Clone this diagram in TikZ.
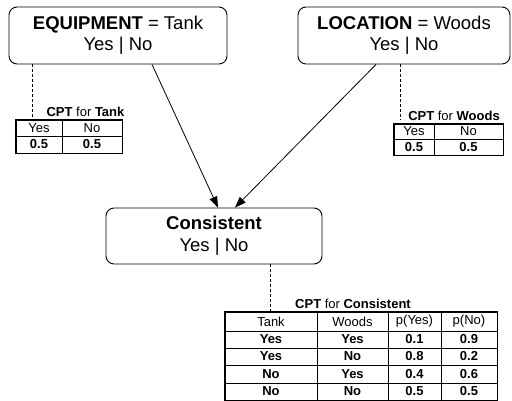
\documentclass[tikz,border=0pt]{standalone}
\usepackage{fontspec}
\setmainfont{Liberation Sans}
\usetikzlibrary{arrows.meta}
\tikzset{
  varbox/.style={draw, line width=0.9pt, rounded corners=8pt, minimum width=218pt, minimum height=57pt, align=center, font=\fontsize{18.5}{21.5}\selectfont, inner sep=0pt},
  cell/.style={draw, line width=0.5pt, inner sep=0pt, anchor=center, font=\fontsize{13}{14}\selectfont},
  bcell/.style={cell, font=\fontsize{13}{14}\selectfont\bfseries},
  outer/.style={line width=1.1pt},
  caption/.style={inner sep=0pt, font=\fontsize{13}{14}\selectfont},
  arr/.style={line width=0.8pt, -{Triangle[length=11pt,width=8pt]}},
  link/.style={line width=0.6pt, dashed, dash pattern=on 3pt off 2pt}
}
\begin{document}
\begin{tikzpicture}[x=1pt,y=-1pt]
\useasboundingbox (0,0) rectangle (512,401);
% variable nodes
\node[varbox] (equip) at (118,35.5) {\textbf{EQUIPMENT} = Tank\\Yes | No};
\node[varbox, minimum width=212pt] (loc) at (404,35.5) {\textbf{LOCATION} = Woods\\Yes | No};
\node[varbox, minimum width=216pt, minimum height=56pt] (cons) at (214,236) {\textbf{Consistent}\\Yes | No};
% arrows
\draw[arr] ([xshift=34pt]equip.south) -- ([xshift=4pt]cons.north);
\draw[arr] ([xshift=-28pt]loc.south) -- ([xshift=21pt]cons.north);

% CPT for Tank
\node[caption] (tcap) at (85.5,112) {\textbf{CPT} for \textbf{Tank}};
\node[cell, minimum width=46pt, minimum height=16pt] (t11) at (39,128) {Yes};
\node[cell, minimum width=60pt, minimum height=16pt] (t12) at (92,128) {No};
\node[bcell, minimum width=46pt, minimum height=17pt] (t21) at (39,144.5) {0.5};
\node[bcell, minimum width=60pt, minimum height=17pt] (t22) at (92,144.5) {0.5};
\draw[outer] (t11.north west) rectangle (t22.south east);
\draw[link] ([xshift=-86pt]equip.south) -- ([xshift=-7pt]t11.north);

% CPT for Woods
\node[caption] (wcap) at (454,115.5) {\textbf{CPT} for \textbf{Woods}};
\node[cell, minimum width=40pt, minimum height=15pt] (w11) at (414,131.5) {Yes};
\node[cell, minimum width=69pt, minimum height=15pt] (w12) at (468.5,131.5) {No};
\node[bcell, minimum width=40pt, minimum height=16pt] (w21) at (414,147) {0.5};
\node[bcell, minimum width=69pt, minimum height=16pt] (w22) at (468.5,147) {0.5};
\draw[outer] (w11.north west) rectangle (w22.south east);
\coordinate (wend) at (400,120);
\draw[link] ([xshift=-4pt]loc.south) -- (wend);

% CPT for Consistent
\node[caption] (ccap) at (353,304) {\textbf{CPT} for \textbf{Consistent}};
\node[cell, minimum width=92pt, minimum height=19pt] (c11) at (271,321.5) {Tank};
\node[cell, minimum width=71pt, minimum height=19pt] (c12) at (352.5,321.5) {Woods};
\node[cell, minimum width=53pt, minimum height=19pt] (c13) at (414.5,321.5) {p(Yes)};
\node[cell, minimum width=56pt, minimum height=19pt] (c14) at (469,321.5) {p(No)};
% row 2
\node[bcell, minimum width=92pt, minimum height=17pt] (c21) at (271,339.5) {Yes};
\node[bcell, minimum width=71pt, minimum height=17pt] (c22) at (352.5,339.5) {Yes};
\node[bcell, minimum width=53pt, minimum height=17pt] (c23) at (414.5,339.5) {0.1};
\node[bcell, minimum width=56pt, minimum height=17pt] (c24) at (469,339.5) {0.9};
% row 3
\node[bcell, minimum width=92pt, minimum height=17pt] (c31) at (271,356.5) {Yes};
\node[bcell, minimum width=71pt, minimum height=17pt] (c32) at (352.5,356.5) {No};
\node[bcell, minimum width=53pt, minimum height=17pt] (c33) at (414.5,356.5) {0.8};
\node[bcell, minimum width=56pt, minimum height=17pt] (c34) at (469,356.5) {0.2};
% row 4
\node[bcell, minimum width=92pt, minimum height=18pt] (c41) at (271,374) {No};
\node[bcell, minimum width=71pt, minimum height=18pt] (c42) at (352.5,374) {Yes};
\node[bcell, minimum width=53pt, minimum height=18pt] (c43) at (414.5,374) {0.4};
\node[bcell, minimum width=56pt, minimum height=18pt] (c44) at (469,374) {0.6};
% row 5
\node[bcell, minimum width=92pt, minimum height=17pt] (c51) at (271,391.5) {No};
\node[bcell, minimum width=71pt, minimum height=17pt] (c52) at (352.5,391.5) {No};
\node[bcell, minimum width=53pt, minimum height=17pt] (c53) at (414.5,391.5) {0.5};
\node[bcell, minimum width=56pt, minimum height=17pt] (c54) at (469,391.5) {0.5};
\draw[outer] (c11.north west) rectangle (c54.south east);
\draw[link] ([xshift=56pt]cons.south) -- ([xshift=-1pt]c11.north);
\end{tikzpicture}
\end{document}
